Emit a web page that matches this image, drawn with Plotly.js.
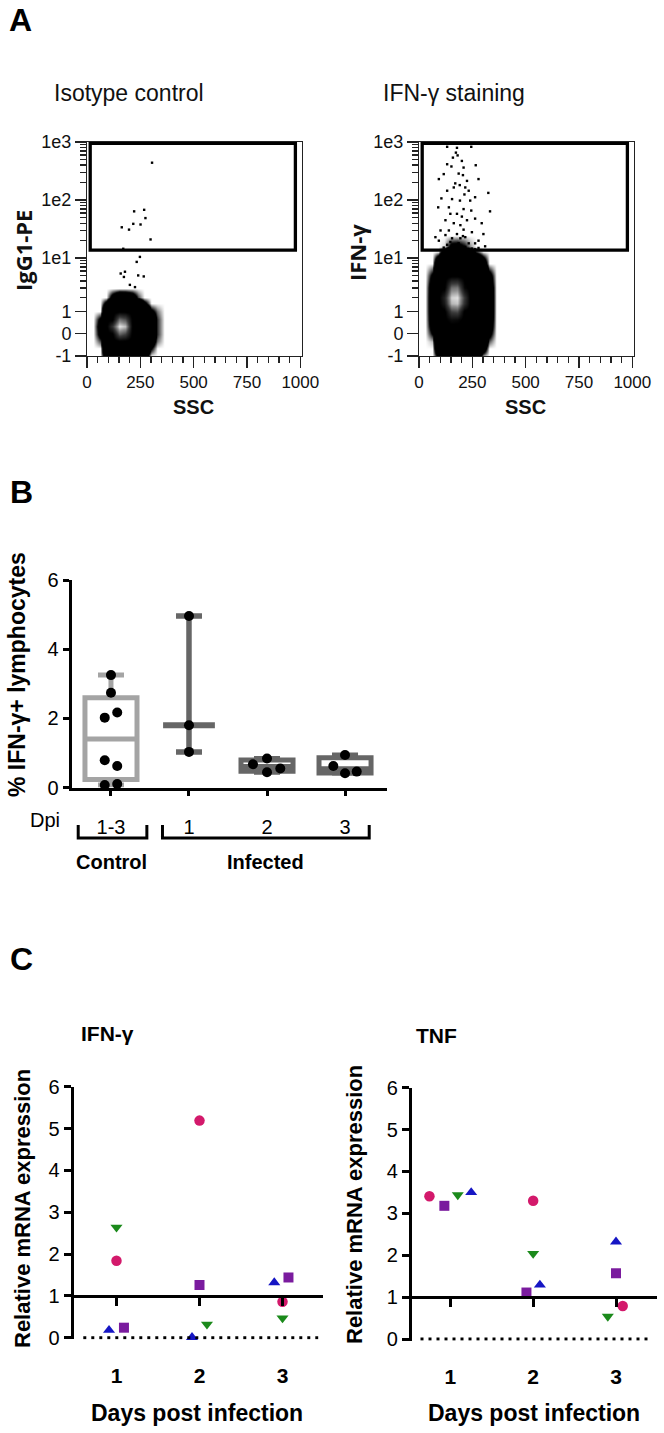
<!DOCTYPE html>
<html><head><meta charset="utf-8">
<script src="https://cdn.plot.ly/plotly-3.0.1.min.js"></script>
<style>html,body{margin:0;padding:0;background:#fff}#chart{width:664px;height:1433px}</style>
</head><body><div id="chart"></div><script>
// ---------------- Panel A data ----------------
const sscBins = [30,60,90,120,150,180,210,240,270,300,330,360];
const isoFlBins = [-1,-0.6,-0.3,0,0.3,0.6,1,1.5,2,3,5];
const isoDensity = [
 [0,0,2.1,4.8,5,5,5,3.9,2.0,0,0,0],
 [0,0,3.85,5,5,5,5,5,3.7,1.1,0,0],
 [0,0.7,4.95,5,5,5,5,5,4.8,2.2,0.5,0],
 [0,1.45,5,5,7.6,7.0,5,5,5,3.0,0.8,0],
 [0,1.7,5,6.8,9.8,9.2,5,5,5,3.2,0.8,0],
 [0,1.3,5,5,8.0,7.4,5,5,5,2.8,0.8,0],
 [0,0,4.1,5,5,5,5,5,4.0,1.4,0.5,0],
 [0,0,1.6,4.35,5,5,4.8,3.45,1.5,0,0,0],
 [0,0,0,1.55,2.8,2.7,2.0,0.7,0,0,0,0],
 [0,0,0,0,0,0,0,0,0,0,0,0],
 [0,0,0,0,0,0,0,0,0,0,0,0]
];
const isoEvents = [[305,440],[221,64],[268,68],[274,49],[251,38],[217,39],[163,34],[197,31],[298,21],[170,14.5],[248,10.5],[233,8.6],[178,5.8],[158,5.4],[173,4.7],[240,5.0],[266,4.8],[201,3.4],[225,3.1]];
const ifnFlBins = [-1,-0.6,-0.3,0,0.3,0.6,1,1.5,2,3,5,8,13,16,25];
const ifnDensity = [
 [0,0,1.24,3.83,5,5,4.72,3.72,2.23,0.23,0,0],
 [0,0,2.98,5,5,5,5,5,3.97,1.97,0,0],
 [0,0.24,4.1,5,5,5,5,5,5,3.09,0.6,0],
 [0,1.1,4.96,5,5,5,5,5,5,3.95,1.46,0],
 [0,1.65,5,5,5,5,5,5,5,4.5,2.0,0],
 [0,1.92,5,5,5.6,5.5,5,5,5,4.77,2.28,0],
 [0,2.07,5,5,7.1,7.3,5,5,5,4.92,2.43,0],
 [0,2.1,5,5.96,9.1,9.3,6.6,5,5,4.95,2.46,0],
 [0,2.1,5,6.3,9.5,9.7,6.9,5,5,4.95,2.46,0],
 [0,1.98,5,5,8.0,8.15,5.4,5,5,4.83,2.34,0],
 [0,1.25,5,5,5,5,5,5,5,4.1,1.61,0],
 [0,0,3.3,5,5,5,5,5,4.29,2.29,0,0],
 [0,0,0,2.36,3.65,3.75,3.25,2.25,0.76,0,0,0],
 [0,0,0,0.15,1.44,1.54,1.04,0.4,0,0,0,0],
 [0,0,0,0,0,0,0,0,0,0,0,0]
];
const ifnEvents = [[132,826],[178,794],[245,826],[173,656],[181,588],[159,538],[201,472],[132,414],[152,379],[209,363],[266,398],[116,280],[186,286],[206,269],[93,230],[279,230],[225,214],[170,194],[191,181],[217,165],[132,145],[233,145],[325,133],[105,107],[155,104],[263,112],[192,98],[90,75],[140,75],[209,70],[245,66],[333,64],[147,58],[178,58],[201,52],[124,45],[225,45],[263,48],[163,40],[194,37],[294,40],[101,30],[140,30],[209,31],[248,28],[178,26],[124,25],[217,23],[155,22],[194,22],[93,20],[279,20],[147,19],[206,24],[186,18],[233,18],[132,17],[263,18],[163,15.6],[217,15.6],[310,16],[116,15.2],[77,23],[302,26],[163,165],[240,98],[213,125],[140,14.8],[173,14.4],[201,15],[248,14.6],[279,15],[147,14.2],[229,14.2],[263,14.2]];
const gateSSC = [15, 977];
const gateFL = [13.7, 950];
const sscTicks = [0,250,500,750,1000];
const flTickVals = [-1,0,1,10,100,1000];
const flTickText = ['-1','0','1','1e1','1e2','1e3'];
const flMinorVals = [2,3,4,5,6,7,8,9,20,30,40,50,60,70,80,90,200,300,400,500,600,700,800,900];

// ---------------- Panel B data ----------------
const bCats = ['1-3','1','2','3'];
const ctrlVals = [3.25,2.74,2.17,2.02,0.79,0.62,0.10,0.07];
const d1Vals = [4.96,1.80,1.03];
const d2Vals = [0.84,0.67,0.55,0.44];
const d3Vals = [0.94,0.62,0.46,0.41];
// horizontal spread of the dots (category units)
const ctrlSpread = [0,0,0.08,-0.08,-0.08,0.08,0.08,-0.08];
const d1Spread = [0,0,0];
const d2Spread = [0,-0.18,0.17,0];
const d3Spread = [0,-0.15,0.15,0];

// ---------------- Panel C data ----------------
const days = [1,2,3];
const ifnCircle = [1.84,5.19,0.86];
const ifnSquare = [0.24,1.26,1.44];
const ifnTriUp = [0.18,0.01,1.32];
const ifnTriDown = [2.64,0.32,0.47];
const tnfCircle = [3.41,3.30,0.79];
const tnfSquare = [3.18,1.11,1.57];
const tnfTriUp = [3.50,1.29,2.32];
const tnfTriDown = [3.44,2.04,0.54];
const baselineLevel = 1;
const zeroLevel = 0;
// spread slots (x 0.09 category units)
const ifnSpread = {circle:[0,0,0], square:[1,0,0.8], up:[-1,-1,-1.1], down:[0,1,0]};
const tnfSpread = {circle:[-2.8,0,0.9], square:[-0.8,-0.9,0], up:[2.8,0.9,0], down:[1,0,-1.1]};

// ---------------- helpers ----------------
const W=664, H=1433;
const px = x => x/W;
const py = y => 1 - y/H;
const T = v => Math.asinh(v);
const F = 'Liberation Sans, Arial, sans-serif';
function quant(arr,p){const s=[...arr].sort((a,b)=>a-b);const n=s.length;const h=(n+1)*p;if(h<=1)return s[0];if(h>=n)return s[n-1];const lo=Math.floor(h);return s[lo-1]+(h-lo)*(s[lo]-s[lo-1]);}

const cytoScale = [[0,'#ffffff'],[0.05,'#7a7a7a'],[0.1,'#000000'],[0.52,'#000000'],[0.7,'#3a3a3a'],[0.85,'#8c8c8c'],[1,'#f6f6f6']];

const traces = [];
function flowPanel(bins, dens, events, xa, ya){
  traces.push({type:'heatmap', x:sscBins, y:bins.map(T), z:dens, zmin:0, zmax:10, zsmooth:'best',
    colorscale:cytoScale, showscale:false, hoverinfo:'skip', xaxis:xa, yaxis:ya});
  traces.push({type:'scatter', mode:'markers', x:events.map(e=>e[0]), y:events.map(e=>T(e[1])),
    marker:{size:2.4, color:'#000', symbol:'square'}, hoverinfo:'skip', xaxis:xa, yaxis:ya});
}
flowPanel(isoFlBins, isoDensity, isoEvents, 'x', 'y');
flowPanel(ifnFlBins, ifnDensity, ifnEvents, 'x2', 'y2');

// Panel B
function boxTrace(vals, xi, color){
  return {type:'box', x:[xi], q1:[quant(vals,.25)], median:[quant(vals,.5)], q3:[quant(vals,.75)],
    lowerfence:[Math.min(...vals)], upperfence:[Math.max(...vals)], width:0.667, whiskerwidth:0.5,
    line:{color:color, width:5}, fillcolor:'#ffffff', boxpoints:false, hoverinfo:'skip', xaxis:'x3', yaxis:'y3'};
}
traces.push(boxTrace(ctrlVals, 0, '#a4a4a4'));
traces.push(boxTrace(d2Vals, 2, '#666666'));
traces.push(boxTrace(d3Vals, 3, '#666666'));
const d1Med = quant(d1Vals,.5);
traces.push({type:'scatter', mode:'markers', x:[1], y:[d1Med],
  marker:{symbol:'line-ew', size:37, color:'#666', line:{width:6, color:'#666'}},
  error_y:{type:'data', symmetric:false, array:[Math.max(...d1Vals)-d1Med], arrayminus:[d1Med-Math.min(...d1Vals)], thickness:5.5, width:13, color:'#666'},
  hoverinfo:'skip', xaxis:'x3', yaxis:'y3'});
[[ctrlVals,ctrlSpread,0],[d1Vals,d1Spread,1],[d2Vals,d2Spread,2],[d3Vals,d3Spread,3]].forEach(([v,s,i])=>{
  traces.push({type:'scatter', mode:'markers', x:v.map((_,k)=>i+s[k]), y:v, cliponaxis:false,
    marker:{size:10, color:'#000'}, hoverinfo:'skip', xaxis:'x3', yaxis:'y3'});
});

// Panel C
const cSeries = [
  {key:'circle', symbol:'circle', color:'#d3196b', size:10.5},
  {key:'square', symbol:'square', color:'#7a1b9e', size:10},
  {key:'up', symbol:'triangle-up', color:'#1616c4', size:10.5},
  {key:'down', symbol:'triangle-down', color:'#1b8a1b', size:10.5}
];
const ifnData = {circle:ifnCircle, square:ifnSquare, up:ifnTriUp, down:ifnTriDown};
const tnfData = {circle:tnfCircle, square:tnfSquare, up:tnfTriUp, down:tnfTriDown};
function cPanel(data, spread, xa, ya){
  cSeries.forEach(s=>{
    traces.push({type:'scatter', mode:'markers', x:days.map((d,k)=>d+0.09*spread[s.key][k]), y:data[s.key],
      cliponaxis:false, marker:{symbol:s.symbol, size:s.size, color:s.color}, hoverinfo:'skip', xaxis:xa, yaxis:ya});
  });
}
cPanel(ifnData, ifnSpread, 'x4', 'y4');
cPanel(tnfData, tnfSpread, 'x5', 'y5');

// ---------------- layout ----------------
const flX = (dom) => ({domain:dom, range:[0,1008], anchor:'free', showline:true, mirror:true, linecolor:'#222', linewidth:1,
  ticks:'outside', ticklen:11, tickwidth:1.3, tickcolor:'#222', tickmode:'array', tickvals:sscTicks,
  minor:{tickmode:'linear', tick0:0, dtick:50, ticks:'outside', ticklen:6, tickwidth:1.3, tickcolor:'#222'},
  tickfont:{family:F, size:17, color:'#111'}, showgrid:false, zeroline:false});
const flY = () => ({domain:[py(356), py(142)], range:[T(-1), T(1000)], showline:true, mirror:true, linecolor:'#222', linewidth:1,
  ticks:'outside', ticklen:11, tickwidth:1.3, tickcolor:'#222', tickmode:'array', tickvals:flTickVals.map(T), ticktext:flTickText,
  minor:{tickmode:'array', tickvals:flMinorVals.map(T), ticks:'outside', ticklen:6, tickwidth:1.3, tickcolor:'#222'},
  tickfont:{family:F, size:18, color:'#111'}, showgrid:false, zeroline:false});

const xa1 = flX([px(87), px(302)]); xa1.anchor='y';
const xa2 = flX([px(419), px(634)]); xa2.anchor='y2';
const ya1 = flY(); ya1.anchor='x';
const ya2 = flY(); ya2.anchor='x2';

function cY(dom0px, dom1px, xa){
  return {domain:[py(dom0px), py(dom1px)], range:[-0.04,6], anchor:xa, showline:true, linewidth:3, linecolor:'#000',
    ticks:'outside', ticklen:7, tickwidth:3, tickcolor:'#000', dtick:1, tick0:0,
    tickfont:{family:F, size:20, color:'#000'}, showgrid:false, zeroline:false};
}
function cX(domPx, rng, yDom){
  const pos = yDom[0] + (baselineLevel - (-0.04))/(6.04)*(yDom[1]-yDom[0]);
  return {domain:[px(domPx[0]), px(domPx[1])], range:rng, anchor:'free', position:pos, showline:true, linewidth:3, linecolor:'#000',
    ticks:'outside', ticklen:8, tickwidth:3, tickcolor:'#000', tickmode:'array', tickvals:days, ticktext:days.map(String),
    ticklabelstandoff:52, tickfont:{family:F, size:21, color:'#000', weight:'bold'}, showgrid:false, zeroline:false};
}
const y4 = cY(1339.4, 1086.7, 'x4');
const y5 = cY(1340.7, 1087.7, 'x5');
const x4 = cX([73.5,323],[0.482,3.488], y4.domain);
const x5 = cX([411.8,657],[0.535,3.495], y5.domain);

const shapes = [
  {type:'rect', xref:'x', yref:'y', x0:gateSSC[0], x1:gateSSC[1], y0:T(gateFL[0]), y1:T(gateFL[1]), line:{color:'#000', width:3.3}},
  {type:'rect', xref:'x2', yref:'y2', x0:gateSSC[0], x1:gateSSC[1], y0:T(gateFL[0]), y1:T(gateFL[1]), line:{color:'#000', width:3.3}},
  {type:'path', xref:'x3', yref:'paper', path:`M ${0-0.42},${py(825)} L ${0-0.42},${py(838)} L ${0+0.46},${py(838)} L ${0+0.46},${py(825)}`, line:{color:'#000', width:3}},
  {type:'path', xref:'x3', yref:'paper', path:`M ${1-0.34},${py(825)} L ${1-0.34},${py(838)} L ${3+0.31},${py(838)} L ${3+0.31},${py(825)}`, line:{color:'#000', width:3}},
  {type:'line', xref:'x4', yref:'y4', x0:0.6, x1:3.43, y0:zeroLevel, y1:zeroLevel, line:{color:'#000', width:3, dash:'3px,5px'}},
  {type:'line', xref:'x5', yref:'y5', x0:0.64, x1:3.44, y0:zeroLevel, y1:zeroLevel, line:{color:'#000', width:3, dash:'3px,5px'}}
];

function ann(text, x, y, opt){
  return Object.assign({text:text, x:px(x), y:py(y), xref:'paper', yref:'paper', showarrow:false, xanchor:'center', yanchor:'middle',
    font:{family:F, size:20, color:'#000'}}, opt||{});
}
const OS = 'Open Sans, Liberation Sans, sans-serif';
const annotations = [
  ann('<b>A</b>', 7, 20, {xanchor:'left', font:{family:F, size:32, color:'#000'}}),
  ann('<b>B</b>', 8, 491.5, {xanchor:'left', font:{family:F, size:32, color:'#000'}}),
  ann('<b>C</b>', 8, 959, {xanchor:'left', font:{family:F, size:32, color:'#000'}}),
  ann('Isotype control', 52, 93, {xanchor:'left', font:{family:F, size:23, color:'#111'}}),
  ann('IFN-γ staining', 381, 93, {xanchor:'left', font:{family:F, size:23, color:'#111'}}),
  ann('<b>IgG1-PE</b>', 23, 251, {textangle:-90, font:{family:OS, size:22, color:'#111'}}),
  ann('<b>IFN-γ</b>', 357, 253, {textangle:-90, font:{family:OS, size:22, color:'#111'}}),
  ann('<b>SSC</b>', 193, 407, {yanchor:'middle', borderpad:0, font:{family:F, size:20, color:'#111'}}),
  ann('<b>SSC</b>', 525, 407, {yanchor:'middle', borderpad:0, font:{family:F, size:20, color:'#111'}}),
  ann('<b>% IFN-γ+ lymphocytes</b>', 17, 675, {textangle:-90, font:{family:F, size:23, color:'#000'}}),
  ann('Dpi', 44.5, 820, {font:{family:F, size:20, color:'#000'}}),
  ann('<b>Control</b>', 112, 862, {font:{family:F, size:20, color:'#000'}}),
  ann('<b>Infected</b>', 265, 862, {font:{family:F, size:20, color:'#000'}}),
  ann('<b>IFN-γ</b>', 79, 1033, {xanchor:'left', font:{family:F, size:21, color:'#000'}}),
  ann('<b>TNF</b>', 414, 1035, {xanchor:'left', font:{family:F, size:21, color:'#000'}}),
  ann('<b>Relative mRNA expression</b>', 22, 1209, {textangle:-90, font:{family:F, size:22, color:'#000'}}),
  ann('<b>Relative mRNA expression</b>', 354, 1205, {textangle:-90, font:{family:F, size:22, color:'#000'}}),
  ann('<b>Days post infection</b>', 197, 1413, {font:{family:F, size:23, color:'#000'}}),
  ann('<b>Days post infection</b>', 534, 1413, {font:{family:F, size:23, color:'#000'}})
];

const layout = {
  width:W, height:H, autosize:false, margin:{l:0,r:0,t:0,b:0}, paper_bgcolor:'#fff', plot_bgcolor:'rgba(0,0,0,0)',
  showlegend:false, hovermode:false, font:{family:F, color:'#000'},
  xaxis:xa1, yaxis:ya1, xaxis2:xa2, yaxis2:ya2,
  xaxis3:{domain:[px(71.5), px(387)], range:[-0.506,3.538], anchor:'y3', showline:true, linewidth:3, linecolor:'#000',
    ticks:'outside', ticklen:5, tickwidth:3, tickcolor:'#000', tickmode:'array', tickvals:[0,1,2,3], ticktext:bCats,
    ticklabelstandoff:14, tickfont:{family:F, size:20, color:'#000'}, showgrid:false, zeroline:false},
  yaxis3:{domain:[py(787.5), py(580)], range:[0,6], anchor:'x3', showline:true, linewidth:3, linecolor:'#000',
    ticks:'outside', ticklen:6, tickwidth:3, tickcolor:'#000', tickmode:'array', tickvals:[0,2,4,6],
    tickfont:{family:F, size:20, color:'#000'}, showgrid:false, zeroline:false},
  xaxis4:x4, yaxis4:y4, xaxis5:x5, yaxis5:y5,
  shapes:shapes, annotations:annotations
};
Plotly.newPlot('chart', traces, layout, {staticPlot:true, displayModeBar:false});
</script></body></html>
